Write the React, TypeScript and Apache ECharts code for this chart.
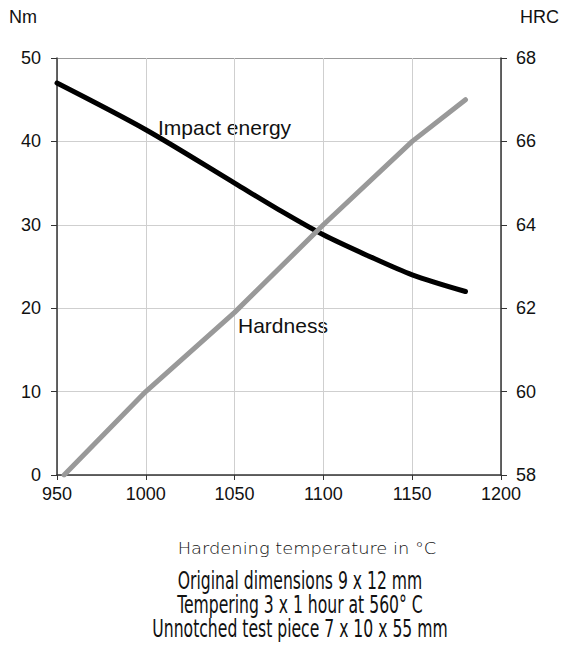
import React, { useEffect, useRef } from "react";
import * as echarts from "echarts";

const temperatureTicks = [950, 1000, 1050, 1100, 1150, 1200];
const impactEnergy: [number, number][] = [
  [950, 47],
  [1000, 41.4],
  [1050, 35],
  [1075, 31.8],
  [1100, 28.8],
  [1125, 26.3],
  [1150, 24],
  [1180, 22],
];
const hardness: [number, number][] = [
  [954, 58],
  [1000, 60],
  [1050, 61.9],
  [1100, 64],
  [1150, 66],
  [1180, 67],
];
const noteLines = [
  "Original dimensions 9 x 12 mm",
  "Tempering 3 x 1 hour at 560° C",
  "Unnotched test piece 7 x 10 x 55 mm",
];

export default function App() {
  const ref = useRef<HTMLDivElement>(null);
  useEffect(() => {
    if (!ref.current) return;
    const chart = echarts.init(ref.current, undefined, { renderer: "svg" });
    const font = "'Liberation Sans', Arial, sans-serif";
    const axisText = { color: "#111", fontSize: 18, fontFamily: font };
    const gridColor = "#cfcfcf";
    const plain = (v: number) => String(v);
    chart.setOption({
      animation: false,
      backgroundColor: "#fff",
      grid: { left: 57, right: 61, top: 58, bottom: 178, containLabel: false },
      xAxis: {
        type: "value",
        min: temperatureTicks[0],
        max: temperatureTicks[temperatureTicks.length - 1],
        interval: 50,
        axisLine: { show: true, lineStyle: { color: "#333", width: 1.5 } },
        axisTick: { show: true, length: 5, lineStyle: { color: "#333" } },
        axisLabel: { ...axisText, margin: 10, formatter: plain },
        splitLine: { show: true, lineStyle: { color: gridColor, width: 1 } },
      },
      yAxis: [
        {
          type: "value",
          min: 0,
          max: 50,
          interval: 10,
          position: "left",
          axisLine: { show: true, lineStyle: { color: "#333", width: 1.5 } },
          axisTick: { show: true, length: 6, lineStyle: { color: "#333" } },
          axisLabel: { ...axisText, margin: 16, formatter: plain },
          splitLine: {
            show: true,
            lineStyle: {
              color: [gridColor, gridColor, gridColor, gridColor, gridColor, "#999"],
              width: 1,
            },
          },
        },
        {
          type: "value",
          min: 58,
          max: 68,
          interval: 2,
          position: "right",
          axisLine: { show: true, lineStyle: { color: "#333", width: 1.5 } },
          axisTick: { show: true, length: 6, lineStyle: { color: "#333" } },
          axisLabel: { ...axisText, margin: 15, formatter: plain },
          splitLine: { show: false },
        },
      ],
      series: [
        {
          name: "Impact energy",
          type: "line",
          data: impactEnergy,
          yAxisIndex: 0,
          symbol: "none",
          smooth: 0.3,
          lineStyle: { color: "#000", width: 5, cap: "round" },
        },
        {
          name: "Hardness",
          type: "line",
          data: hardness,
          yAxisIndex: 1,
          symbol: "none",
          lineStyle: { color: "#999", width: 5, cap: "round" },
        },
      ],
      graphic: [
        {
          type: "text",
          x: 9,
          y: 17,
          style: { text: "Nm", fontSize: 18, fontFamily: font, fill: "#111", textVerticalAlign: "middle" },
        },
        {
          type: "text",
          x: 520,
          y: 17,
          style: { text: "HRC", fontSize: 18, fontFamily: font, fill: "#111", textVerticalAlign: "middle" },
        },
        {
          type: "text",
          x: 158,
          y: 127,
          style: { text: "Impact energy", fontSize: 21, fontFamily: font, fill: "#111", textVerticalAlign: "middle" },
        },
        {
          type: "text",
          x: 238,
          y: 325,
          style: { text: "Hardness", fontSize: 21, fontFamily: font, fill: "#111", textVerticalAlign: "middle" },
        },
        {
          type: "text",
          x: 307,
          y: 549,
          scaleX: 1.19,
          style: {
            text: "Hardening temperature in °C",
            fontSize: 15,
            fontFamily: "'DejaVu Sans', sans-serif",
            fontWeight: 300,
            fill: "#111",
            textAlign: "center",
            textVerticalAlign: "middle",
          },
        },
        ...noteLines.map((t, i) => ({
          type: "text",
          x: 300,
          y: 580 + i * 24,
          scaleX: 0.79,
          scaleY: 1.1,
          style: {
            text: t,
            fontSize: 22,
            fontFamily: "'Liberation Sans Narrow', 'DejaVu Sans Condensed', sans-serif",
            fill: "#111",
            textAlign: "center",
            textVerticalAlign: "middle",
          },
        })),
      ],
    });
    return () => chart.dispose();
  }, []);
  return (
    <div
      ref={ref}
      style={{ position: "fixed", left: 0, top: 0, width: 562, height: 653, background: "#fff" }}
    />
  );
}
